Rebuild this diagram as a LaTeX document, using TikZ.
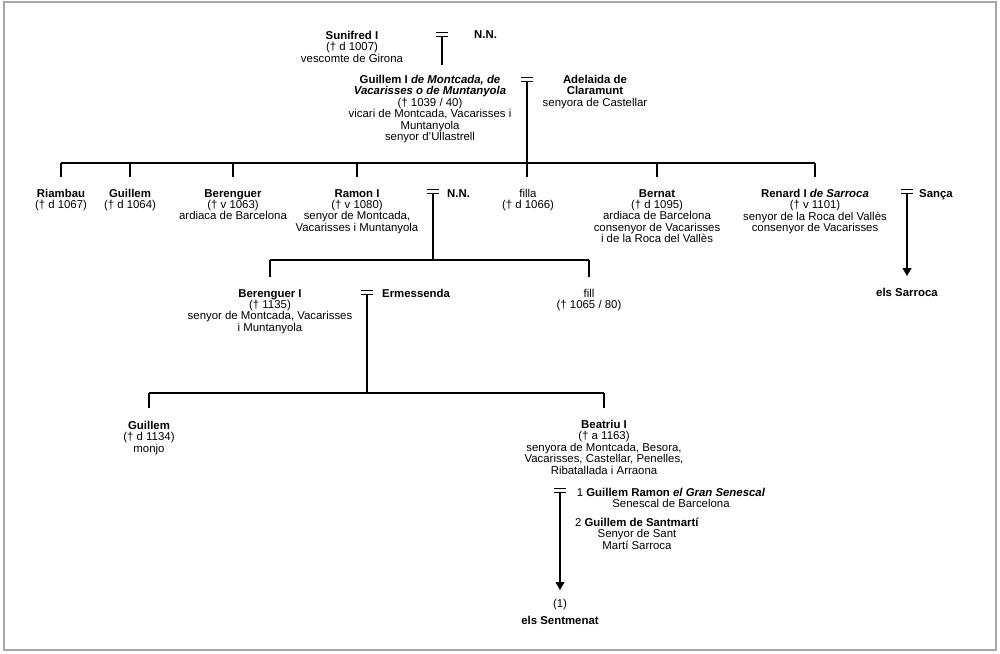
\documentclass[tikz,border=0pt]{standalone}
\usepackage{fontspec}
\setmainfont{Liberation Sans}
\usetikzlibrary{arrows.meta}

\tikzset{
  person/.style = {anchor = north, align = center, inner sep = 0pt, font = \fontsize{11.4}{11.4}\selectfont},
  spouse/.style = {person, anchor = north west},
  kin/.style = {line width = 1.1pt},
  wed/.style = {line width = 0.9pt},
  descent/.style = {kin, -{Triangle[length = 8pt, width = 9pt]}}
}

\begin{document}
\begin{tikzpicture}[x = 1pt, y = -1pt]
  \useasboundingbox (0, 0) rectangle (1000, 653);
  \draw[gray!70, line width = 1.4pt] (4, 2) rectangle (996, 650);

  % levels of the lines
  \coordinate (lv0) at (0, 65);
  \coordinate (bus1) at (0, 163);
  \coordinate (drop1) at (0, 177);
  \coordinate (bus2) at (0, 260);
  \coordinate (drop2) at (0, 277);
  \coordinate (bus3) at (0, 393);
  \coordinate (drop3) at (0, 408);

  % marriages
  \coordinate (m1) at (442, 36);
  \coordinate (m2) at (527, 81);
  \coordinate (m3) at (433, 193);
  \coordinate (m4) at (907, 193);
  \coordinate (m5) at (367, 294);
  \coordinate (m6) at (560, 492);
  \foreach \m in {m1, m2, m3, m4, m5, m6}
    \draw[wed] ([xshift = -6pt]\m) -- ([xshift = 6pt]\m) ([shift = {(-6pt, 4pt)}]\m) -- ([shift = {(6pt, 4pt)}]\m);

  % first generations
  \node[person] (sunifred) at (352, 31) {\textbf{Sunifred I}\\(† d 1007)\\vescomte de Girona};
  \node[spouse] (nn1) at (474, 30) {\textbf{N.N.}};
  \node[person] (guillemI) at (430, 75) {\textbf{Guillem I \textit{de Montcada, de}}\\\textbf{\textit{Vacarisses o de Muntanyola}}\\(† 1039 / 40)\\vicari de Montcada, Vacarisses i\\Muntanyola\\senyor d’Ullastrell};
  \node[person] (adelaida) at (595, 75) {\textbf{Adelaida de}\\\textbf{Claramunt}\\senyora de Castellar};

  % children of Guillem I
  \node[person] (riambau) at (61, 189) {\textbf{Riambau}\\(† d 1067)};
  \node[person] (guillem) at (130, 189) {\textbf{Guillem}\\(† d 1064)};
  \node[person] (berenguer) at (233, 189) {\textbf{Berenguer}\\(† v 1063)\\ardiaca de Barcelona};
  \node[person] (ramon) at (357, 189) {\textbf{Ramon I}\\(† v 1080)\\senyor de Montcada,\\Vacarisses i Muntanyola};
  \node[spouse] (nn2) at (447, 189) {\textbf{N.N.}};
  \node[person] (filla) at (528, 189) {filla\\(† d 1066)};
  \node[person] (bernat) at (657, 189) {\textbf{Bernat}\\(† d 1095)\\ardiaca de Barcelona\\consenyor de Vacarisses\\i de la Roca del Vallès};
  \node[person] (renard) at (815, 189) {\textbf{Renard I \textit{de Sarroca}}\\(† v 1101)\\senyor de la Roca del Vallès\\consenyor de Vacarisses};
  \node[spouse] (sanca) at (919, 189) {\textbf{Sança}};
  \node[person] (sarroca) at (907, 288) {\textbf{els Sarroca}};

  % children of Ramon I
  \node[person] (berengueri) at (270, 289) {\textbf{Berenguer I}\\(† 1135)\\senyor de Montcada, Vacarisses\\i Muntanyola};
  \node[spouse] (ermessenda) at (382, 289) {\textbf{Ermessenda}};
  \node[person] (fill) at (589, 289) {fill\\(† 1065 / 80)};

  % children of Berenguer I
  \node[person] (guillemII) at (149, 421) {\textbf{Guillem}\\(† d 1134)\\monjo};
  \node[person] (beatriu) at (604, 420) {\textbf{Beatriu I}\\(† a 1163)\\senyora de Montcada, Besora,\\Vacarisses, Castellar, Penelles,\\Ribatallada i Arraona};
  \node[person] (husband1) at (671, 488) {1 \textbf{Guillem Ramon \textit{el Gran Senescal}}\\Senescal de Barcelona};
  \node[person] (husband2) at (637, 518) {2 \textbf{Guillem de Santmartí}\\Senyor de Sant\\Martí Sarroca};
  \node[person] (sentmenat) at (560, 599) {(1)\\[5.5pt]\textbf{els Sentmenat}};

  % lines
  \draw[kin] (m1) -- (m1 |- lv0);
  \draw[kin] (riambau.north |- bus1) -- (renard.north |- bus1);
  \foreach \n in {riambau, guillem, berenguer, ramon, bernat, renard}
    \draw[kin] (\n.north |- bus1) -- (\n.north |- drop1);
  \draw[kin] (m2) -- (m2 |- drop1);

  \draw[kin] (m3) -- (m3 |- bus2);
  \draw[kin] (berengueri.north |- bus2) -- (fill.north |- bus2);
  \foreach \n in {berengueri, fill}
    \draw[kin] (\n.north |- bus2) -- (\n.north |- drop2);
  \draw[descent] (m4) -- ([yshift = 12pt]sarroca.north);

  \draw[kin] (m5) -- (m5 |- bus3);
  \draw[kin] (guillemII.north |- bus3) -- (beatriu.north |- bus3);
  \foreach \n in {guillemII, beatriu}
    \draw[kin] (\n.north |- bus3) -- (\n.north |- drop3);
  \draw[descent] (m6) -- ([yshift = 9pt]sentmenat.north);
\end{tikzpicture}
\end{document}
